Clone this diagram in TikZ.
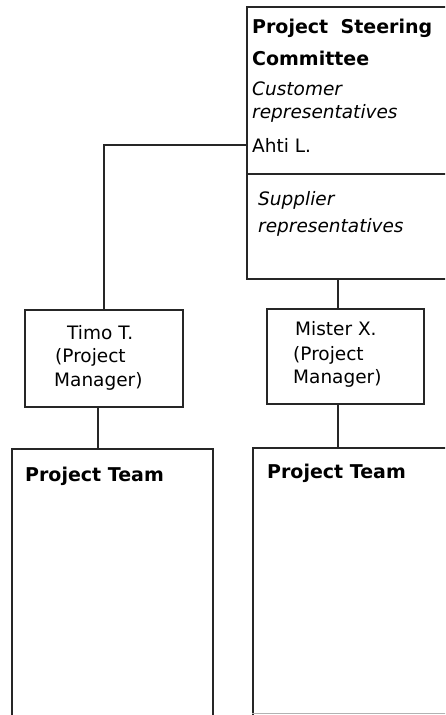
\documentclass[tikz,border=0pt]{standalone}
\usepackage{fontspec}
\setmainfont{DejaVu Sans}
\begin{document}
\begin{tikzpicture}[x=1pt,y=-1pt,
  box/.style={draw=black!85,line width=1.6pt,inner sep=0pt,anchor=north west,rectangle},
  link/.style={draw=black!85,line width=1.6pt},
  txt/.style={anchor=base west,inner sep=0pt,font=\fontsize{18.5}{20}\selectfont},
  btxt/.style={txt,font=\fontsize{19}{20}\selectfont\bfseries},
  itxt/.style={txt,font=\fontsize{18.5}{20}\selectfont\itshape}]
\useasboundingbox (0,0) rectangle (445,715);
\clip (0,0) rectangle (445,715);
\fill[white] (0,0) rectangle (445,715);
% boxes
\node[box,minimum width=214pt,minimum height=272pt] (steer) at (246,6) {};
\node[box,minimum width=158pt,minimum height=97pt] (timo) at (24,309) {};
\node[box,minimum width=157pt,minimum height=95pt] (mister) at (266,308) {};
\node[box,minimum width=201pt,minimum height=300pt] (teamA) at (11,448) {};
\node[box,minimum width=220pt,minimum height=300pt] (teamB) at (252,447) {};
% light bottom edge of right team box
\coordinate (bb) at (0,713.5);
\draw[black!30,line width=1.2pt] (teamB.west |- bb) -- (teamB.east |- bb);
% divider in steering box
\coordinate (dv) at (0,174);
\draw[link] (steer.west |- dv) -- (steer.east |- dv);
% connectors
\coordinate (j1) at (246,145);
\draw[link] (j1) -| (timo.north);
\draw[link] ([xshift=-6pt]timo.south) -- ([xshift=-6pt]timo.south |- teamA.north);
\coordinate (cx) at (338,0);
\draw[link] (steer.south -| cx) -- (mister.north -| cx);
\draw[link] (mister.south -| cx) -- (teamB.north -| cx);
% texts
\node[btxt] (t1) at (252,33) {Project\hspace{0.3em} Steering};
\node[btxt] (t2) at (252,65) {Committee};
\node[itxt] (t3) at (252,95) {Customer};
\node[itxt] (t4) at (252,118) {representatives};
\node[txt] (t5) at (252,152) {Ahti L.};
\node[itxt] (t6) at (258,205) {Supplier};
\node[itxt] (t7) at (258,232) {representatives};
\node[txt] (a1) at (67,339) {Timo T.};
\node[txt] (a2) at (55,362) {(Project};
\node[txt] (a3) at (54,386) {Manager)};
\node[txt] (b1) at (295,335) {Mister X.};
\node[txt] (b2) at (293,360) {(Project};
\node[txt] (b3) at (293,383) {Manager)};
\node[btxt] (p1) at (25,481) {Project Team};
\node[btxt] (p2) at (267,478) {Project Team};
\end{tikzpicture}
\end{document}
